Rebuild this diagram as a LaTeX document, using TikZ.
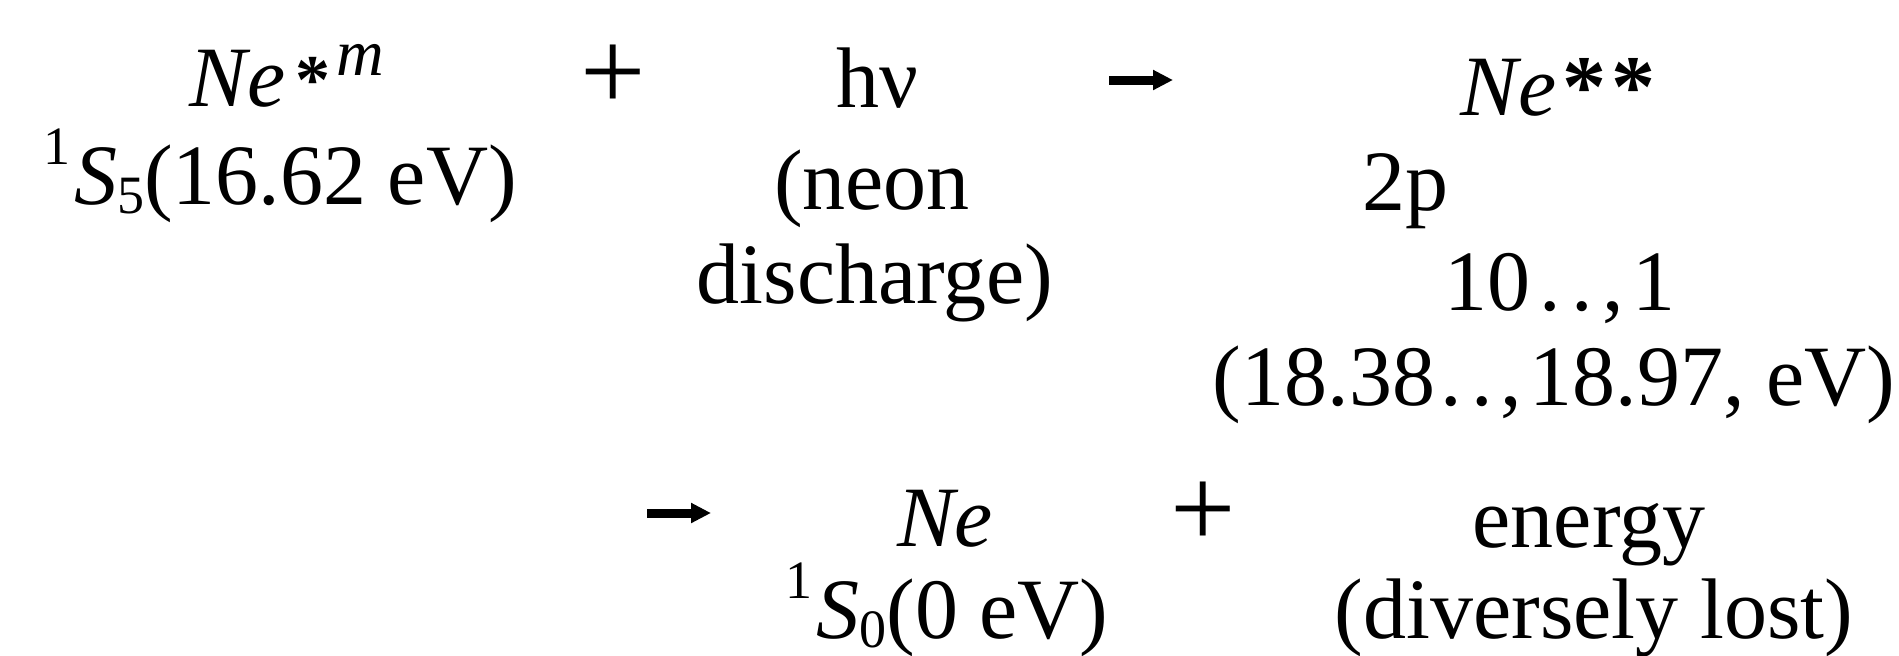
\documentclass[tikz,border=0pt]{standalone}
\usepackage{fontspec}
\setmainfont{Liberation Serif}
\usetikzlibrary{arrows.meta}
\newcommand\supone{\raisebox{20pt}{\fontsize{27}{27}\selectfont 1}}
\newcommand\subdig[1]{\raisebox{-4.5pt}{\fontsize{27}{27}\selectfont #1}}
\newcommand\bstar{\textbf{*}}
\tikzset{
  txt/.style={inner sep=0pt, outer sep=0pt, anchor=base, font=\fontsize{43}{50}\selectfont},
  sym/.style={inner sep=0pt, outer sep=0pt, anchor=center, font=\fontsize{58}{60}\selectfont},
  rarrow/.style={line width=4.5pt, -{Triangle[length=10pt,width=9.5pt]}}
}
\begin{document}
\begin{tikzpicture}[x=0.5pt,y=-0.5pt]
\useasboundingbox (0,0) rectangle (1899,655);
% row 1
\node[txt] (nem) at (287,106) {\textit{Ne}\kern5pt{\fontsize{35}{35}\selectfont\raisebox{1.5pt}{\bstar}\kern3pt{\fontsize{33}{33}\selectfont\raisebox{15.5pt}{\textit{m}}}}};
\node[sym] (p1) at (613,78) {+};
\node[txt] (hv) at (877,107) {hν};
\coordinate (a1s) at (1109,80);
\coordinate (a1e) at (1173,80);
\draw[rarrow] (a1s) -- (a1e);
\node[txt] (nes) at (1558,115) {\textit{Ne}\kern3pt{\fontsize{44}{44}\selectfont\raisebox{-0.5pt}{\bstar}\kern2.5pt\raisebox{-0.5pt}{\bstar}}};
% row 2
\node[txt] (s5) at (280,204) {\supone\kern2pt\textit{S}\subdig{5}(16.62 eV)};
\node[txt] (neon) at (872,209) {(neon};
\node[txt] (tp) at (1405,210) {2p};
% row 3
\node[txt] (dis) at (875,303) {discharge)};
\node[txt] (ten) at (1560,310) {10\kern4.5pt.\kern5.5pt.\kern4.5pt,\kern4.5pt1};
% row 4
\node[txt] (en) at (1554,405) {(18.38\kern2.5pt.\kern5pt.\kern3.5pt,\kern4pt18.97, eV)};
% row 5
\coordinate (a2s) at (647,513);
\coordinate (a2e) at (711,513);
\draw[rarrow] (a2s) -- (a2e);
\node[txt] (ne) at (945,546) {\textit{Ne}};
\node[sym] (p2) at (1203,515) {+};
\node[txt] (energy) at (1589,547) {energy};
% row 6
\node[txt] (s0) at (947,638) {\supone\kern2pt\textit{S}\subdig{0}(0 eV)};
\node[txt] (lost) at (1594,638) {(diversely lost)};
\end{tikzpicture}
\end{document}
